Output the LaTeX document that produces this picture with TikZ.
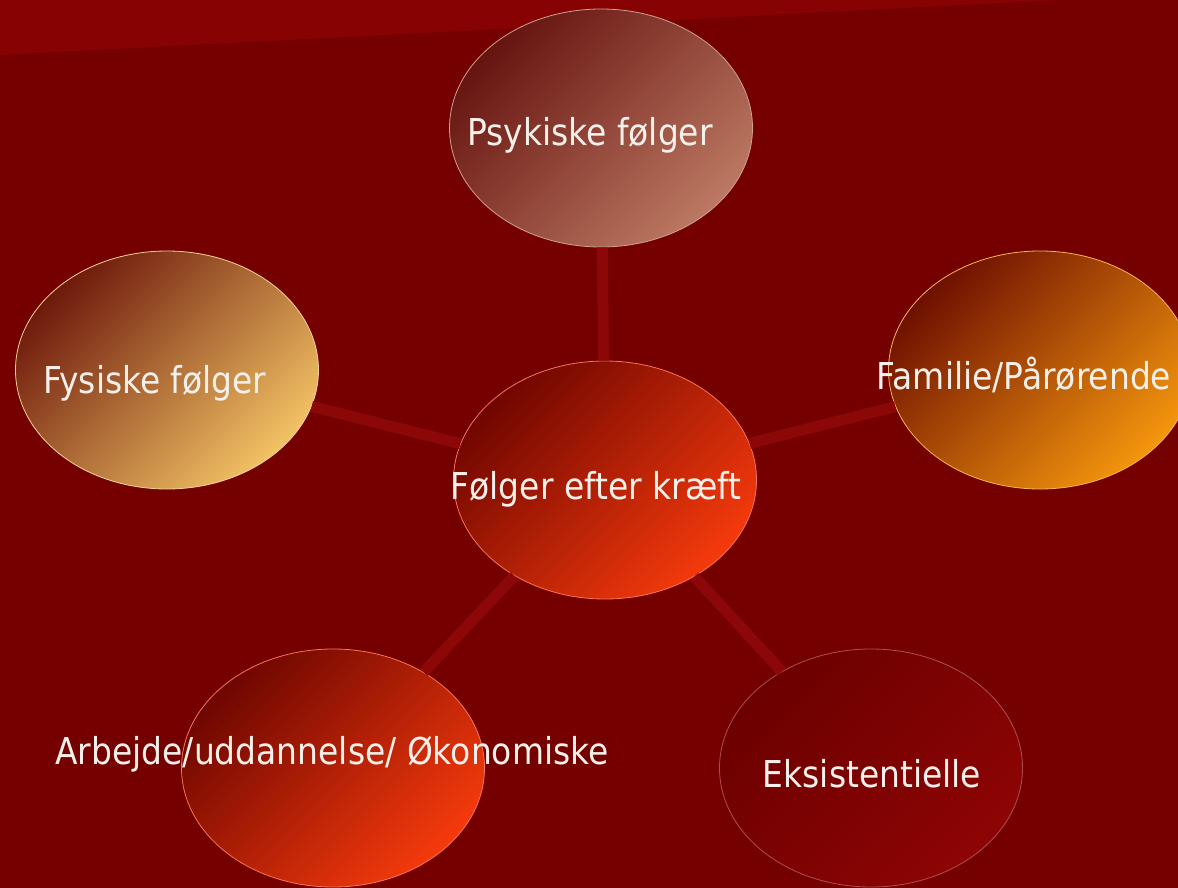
\documentclass[tikz,border=0pt]{standalone}
\usepackage{fontspec}
\setmainfont{DejaVu Sans}[FakeStretch=0.89]
\usetikzlibrary{shapes.geometric}
\definecolor{bgred}{HTML}{740000}
\definecolor{bandred}{HTML}{870202}
\definecolor{linkred}{HTML}{8C0808}
\definecolor{textcol}{HTML}{F7F0EA}
\definecolor{psykA}{HTML}{661410}
\definecolor{psykB}{HTML}{BC7862}
\definecolor{fysA}{HTML}{6E1A0C}
\definecolor{fysB}{HTML}{F2C264}
\definecolor{famA}{HTML}{6E1000}
\definecolor{famB}{HTML}{F5960E}
\definecolor{kraeftA}{HTML}{700600}
\definecolor{kraeftB}{HTML}{F53A0C}
\definecolor{arbA}{HTML}{6E0600}
\definecolor{arbB}{HTML}{F53A0C}
\definecolor{eksA}{HTML}{6C0000}
\definecolor{eksB}{HTML}{8E0404}

\begin{document}
\begin{tikzpicture}[x=1pt,y=-1pt,
	bubble/.style={ellipse,minimum width=303pt,minimum height=238pt,inner sep=0pt,line width=0.8pt},
	link/.style={line width=11pt,linkred},
	lbl/.style={anchor=base,text=textcol,font=\fontsize{37}{40}\selectfont}]
\useasboundingbox (0,0) rectangle (1178,888);
\clip (0,0) rectangle (1178,888);
\fill[bgred] (0,0) rectangle (1178,888);
\fill[bandred] (0,0) -- (0,55) -- (1060,0) -- cycle;
\foreach \nm/\px/\py/\tx/\ty/\txt in {
	kraeft/605/480/596/499/{Følger efter kræft},
	psyk/601/128/590/146/{Psykiske følger},
	fys/167/370/155/393/{Fysiske følger},
	fam/1040/370/1024/389/{Familie/Pårørende},
	arb/333/768/332/764/{Arbejde/uddannelse/ Økonomiske},
	eks/871/768/872/787/{Eksistentielle}%
	}{
	\node[bubble,top color=\nm A,bottom color=\nm B,shading angle=45,draw=\nm B!70!white] (\nm) at (\px,\py) {};
	\node[lbl] (\nm-t) at (\tx,\ty) {\txt};
	}
\foreach \nm in {psyk,fys,fam,arb,eks}
	\draw[link] (kraeft) -- (\nm);
\end{tikzpicture}
\end{document}
